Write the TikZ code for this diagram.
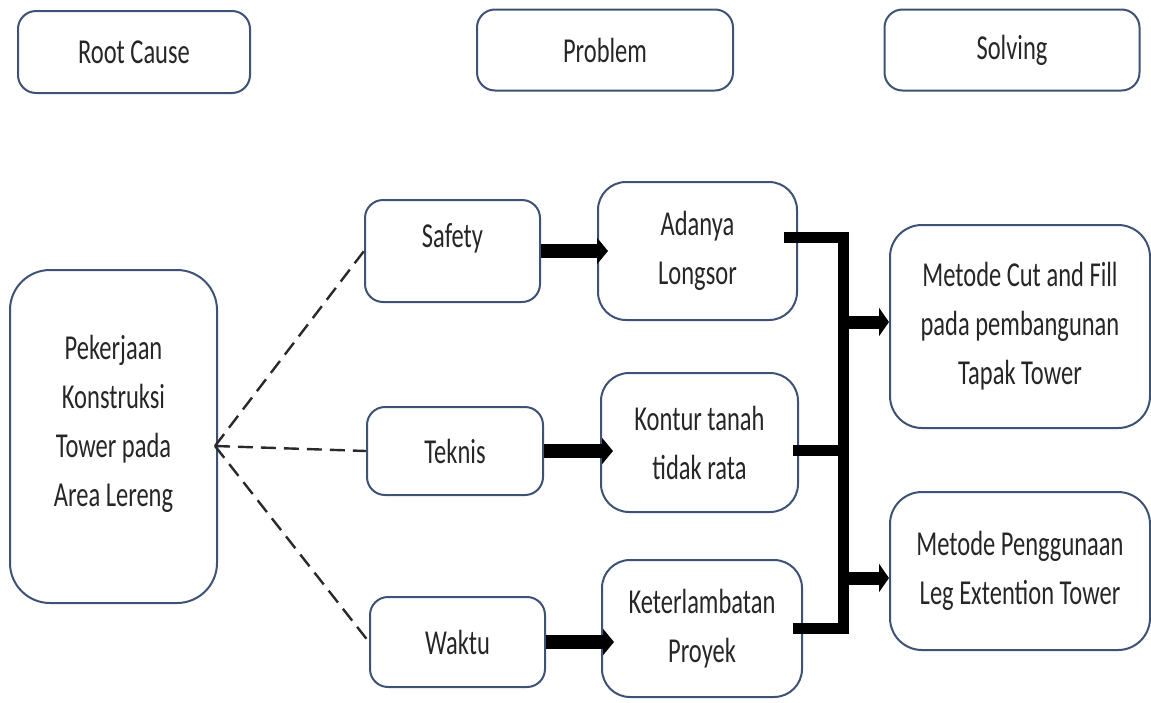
\documentclass[tikz,border=0pt]{standalone}
\usepackage{fontspec}
\setmainfont{Carlito}[FakeStretch=0.7]
\usetikzlibrary{arrows.meta,calc}
\definecolor{boxline}{HTML}{3E5275}
\definecolor{dashc}{HTML}{2A2A2A}
\tikzset{
  box/.style={draw=boxline, line width=2pt, rounded corners=18pt, align=center,
    inner sep=0pt, font=\fontsize{35}{49}\selectfont, text=black!85},
  dashln/.style={draw=dashc, line width=2.4pt, dash pattern=on 15pt off 8pt},
  fat/.style={line width=14pt, -{Triangle[length=11pt,width=26pt]}},
  busln/.style={line width=11pt, line join=miter},
}
\begin{document}
\begin{tikzpicture}[x=1pt,y=-1pt]
\useasboundingbox (0,0) rectangle (1151,702);
% header boxes
\node[box, minimum width=232pt, minimum height=82pt] (root) at (134,52) {Root Cause};
\node[box, minimum width=256pt, minimum height=81pt] (prob) at (605,50) {Problem};
\node[box, minimum width=255pt, minimum height=81pt] (solv) at (1012,50) {Solving};
% main
\node[box, rounded corners=40pt, minimum width=207pt, minimum height=333pt] (pek) at (113.5,436.5) {Pekerjaan\\Konstruksi\\Tower pada\\Area Lereng\\[-18pt]\mbox{}};
\node[box, minimum width=175pt, minimum height=102pt] (safety) at (452.5,251) {Safety\\[-18pt]\mbox{}};
\node[box, minimum width=176pt, minimum height=88pt] (teknis) at (455,451) {Teknis};
\node[box, minimum width=175pt, minimum height=90pt] (waktu) at (457.5,642) {Waktu};
\node[box, rounded corners=28pt, minimum width=199pt, minimum height=138pt] (adanya) at (697.5,251) {Adanya\\Longsor};
\node[box, rounded corners=28pt, minimum width=197pt, minimum height=139pt] (kontur) at (699.5,442.5) {Kontur tanah\\tidak rata};
\node[box, rounded corners=28pt, minimum width=200pt, minimum height=137pt] (ket) at (702,628.5) {Keterlambatan\\Proyek};
\node[box, rounded corners=32pt, minimum width=260pt, minimum height=203pt] (cut) at (1020,326.5) {Metode Cut and Fill\\pada pembangunan\\Tapak Tower};
\node[box, rounded corners=32pt, minimum width=260pt, minimum height=158pt] (peng) at (1020,571) {Metode Penggunaan\\Leg Extention Tower};
% dashed connectors
\coordinate (hub) at (215,446);
\draw[dashln] (hub) -- (safety.west);
\draw[dashln] (hub) -- (teknis.west);
\draw[dashln] (hub) -- (waktu.west);
% thick arrows
\draw[fat] (safety.east) -- ($(adanya.west)+(11,0)$);
\draw[fat] (teknis.east) -- ($(teknis.east -| kontur.west)+(13,0)$);
\draw[fat] (waktu.east) -- ($(waktu.east -| ket.west)+(13,0)$);
% bus
\coordinate (bustop) at (843,237);
\coordinate (busbot) at (843,628.5);
\draw[busln] ($(adanya.east)+(-14,-14)$) -- (bustop) -- (busbot) -- ($(ket.east)+(-10,0)$);
\draw[busln] ($(kontur.east)+(-6,7.5)$) -- (843,450);
\coordinate (out1) at (843,322);
\coordinate (out2) at (843,578);
\draw[line width=13pt, -{Triangle[length=10pt,width=28pt]}] (out1) -- (out1 -| cut.west);
\draw[line width=13pt, -{Triangle[length=10pt,width=28pt]}] (out2) -- (out2 -| peng.west);
\end{tikzpicture}
\end{document}
